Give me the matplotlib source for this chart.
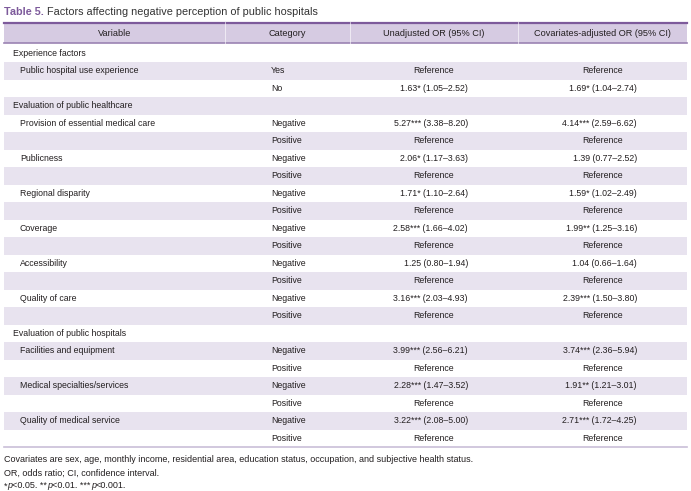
import matplotlib
matplotlib.use('Agg')
import matplotlib.pyplot as plt
from matplotlib.patches import Rectangle

plt.rcParams['font.family'] = ['Liberation Sans Narrow', 'Liberation Sans', 'DejaVu Sans']

title_bold = 'Table 5.'
title_text = 'Factors affecting negative perception of public hospitals'
headers = ['Variable', 'Category', 'Unadjusted OR (95% CI)', 'Covariates-adjusted OR (95% CI)']

# level 0 = group heading, 1 = variable, 2 = continuation row
levels = [0, 1, 2, 0, 1, 2, 1, 2, 1, 2, 1, 2, 1, 2, 1, 2, 0, 1, 2, 1, 2, 1, 2]
variables = ['Experience factors', 'Public hospital use experience', '',
             'Evaluation of public healthcare', 'Provision of essential medical care', '',
             'Publicness', '', 'Regional disparity', '', 'Coverage', '',
             'Accessibility', '', 'Quality of care', '',
             'Evaluation of public hospitals', 'Facilities and equipment', '',
             'Medical specialties/services', '', 'Quality of medical service', '']
categories = ['', 'Yes', 'No', '', 'Negative', 'Positive', 'Negative', 'Positive',
              'Negative', 'Positive', 'Negative', 'Positive', 'Negative', 'Positive',
              'Negative', 'Positive', '', 'Negative', 'Positive', 'Negative', 'Positive',
              'Negative', 'Positive']
unadjusted = ['', 'Reference', '1.63* (1.05\u20132.52)', '', '5.27*** (3.38\u20138.20)', 'Reference',
              '2.06* (1.17\u20133.63)', 'Reference', '1.71* (1.10\u20132.64)', 'Reference',
              '2.58*** (1.66\u20134.02)', 'Reference', '1.25 (0.80\u20131.94)', 'Reference',
              '3.16*** (2.03\u20134.93)', 'Reference', '', '3.99*** (2.56\u20136.21)', 'Reference',
              '2.28*** (1.47\u20133.52)', 'Reference', '3.22*** (2.08\u20135.00)', 'Reference']
adjusted = ['', 'Reference', '1.69* (1.04\u20132.74)', '', '4.14*** (2.59\u20136.62)', 'Reference',
            '1.39 (0.77\u20132.52)', 'Reference', '1.59* (1.02\u20132.49)', 'Reference',
            '1.99** (1.25\u20133.16)', 'Reference', '1.04 (0.66\u20131.64)', 'Reference',
            '2.39*** (1.50\u20133.80)', 'Reference', '', '3.74*** (2.36\u20135.94)', 'Reference',
            '1.91** (1.21\u20133.01)', 'Reference', '2.71*** (1.72\u20134.25)', 'Reference']
footnotes = ['Covariates are sex, age, monthly income, residential area, education status, '
             'occupation, and subjective health status.',
             'OR, odds ratio; CI, confidence interval.']
sig_note = [('*', False), ('p', True), ('<0.05. **', False), ('p', True), ('<0.01. ***', False),
            ('p', True), ('<0.001.', False)]

W, H = 691, 491
txt = '#231f20'
purple = '#7d5a9b'
head_fill = '#d6cbe2'
band = '#e8e3ef'

fig = plt.figure(figsize=(W / 100, H / 100), dpi=100)
ax = fig.add_axes([0, 0, 1, 1])
ax.set_xlim(0, W)
ax.set_ylim(H, 0)
ax.axis('off')

fs = 6.3
fs_head = 6.6
fs_note = 6.5
x0, x1 = 4, 687
col_edges = [x0, 225, 350, 518, x1]
col_centers = [(a + b) / 2 for a, b in zip(col_edges[:-1], col_edges[1:])]

# title
t = ax.text(x0, 12, title_bold + ' ', fontsize=7.8, fontweight='bold', color=purple, va='center')
fig.canvas.draw()
bb = t.get_window_extent().transformed(ax.transData.inverted())
ax.text(bb.x1, 12, title_text, fontsize=7.8, color='#333333', va='center')

# header
ax.add_patch(Rectangle((x0, 23), x1 - x0, 20, facecolor=head_fill, edgecolor='none'))
ax.plot([x0, x1], [23, 23], color=purple, lw=1.6)
ax.plot([x0, x1], [43.3, 43.3], color='#9b83b3', lw=1.2)
for xe in col_edges[1:-1]:
    ax.plot([xe, xe], [22, 44], color='white', lw=0.6, alpha=0.7)
for h, xc in zip(headers, col_centers):
    ax.text(xc, 33, h, fontsize=fs_head, color=txt, ha='center', va='center')

# body
top, rh = 44.5, 17.5
for i in range(len(levels)):
    yc = top + rh * (i + 0.5)
    if i % 2 == 1:
        ax.add_patch(Rectangle((x0, top + rh * i), x1 - x0, rh, facecolor=band, edgecolor='none'))
    xv = 13 if levels[i] == 0 else 20
    ax.text(xv, yc, variables[i], fontsize=fs, color=txt, va='center')
    ax.text(271, yc, categories[i], fontsize=fs, color=txt, va='center')
    for val, xc, xr in [(unadjusted[i], col_centers[2], 468), (adjusted[i], col_centers[3], 637)]:
        if val == 'Reference':
            ax.text(xc, yc, val, fontsize=fs, color=txt, ha='center', va='center')
        elif val:
            ax.text(xr, yc, val, fontsize=fs, color=txt, ha='right', va='center')
ybot = top + rh * len(levels)
ax.plot([x0, x1], [ybot, ybot], color='#c9bfd8', lw=1.2)

# footnotes
for k, f in enumerate(footnotes):
    ax.text(x0, 460 + 13 * k, f, fontsize=fs_note, color=txt, va='center')
xp = x0
for piece, ital in sig_note:
    tt = ax.text(xp, 486, piece, fontsize=fs_note, color=txt, va='center',
                 style='italic' if ital else 'normal')
    fig.canvas.draw()
    xp = tt.get_window_extent().transformed(ax.transData.inverted()).x1

fig.savefig('out.png', dpi=100)
